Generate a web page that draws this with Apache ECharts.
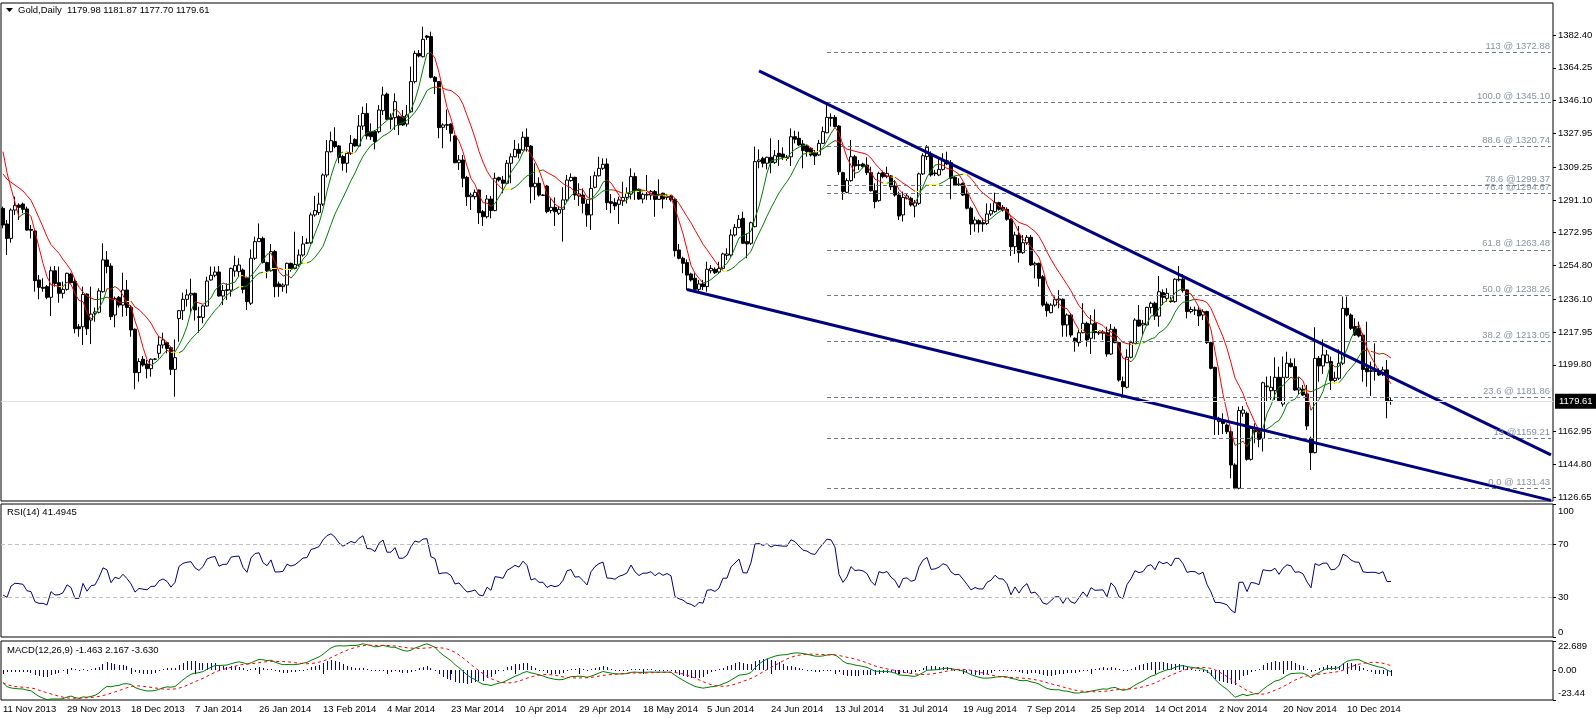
<!DOCTYPE html>
<html><head><meta charset="utf-8">
<script src="https://cdn.jsdelivr.net/npm/echarts@6/dist/echarts.min.js"></script>
<style>html,body{margin:0;padding:0;background:#fff;}#c{width:1596px;height:718px;}</style>
</head><body><div id="c"></div>
<script>
const opens = [1286.4,1277.8,1269.8,1285.5,1288.3,1288.8,1286.1,1274.8,1273.9,1246.8,
1242.7,1243.1,1237.2,1251.9,1245.3,1239.4,1241.6,1250.1,1245.9,1220.9,
1220.9,1239.0,1224.6,1228.3,1228.9,1240.3,1257.9,1254.5,1227.4,1237.2,
1232.9,1241.2,1231.6,1219.5,1195.5,1202.9,1200.3,1197.7,1202.9,1206.2,
1210.8,1212.1,1209.3,1197.3,1225.4,1229.8,1236.1,1238.5,1239.4,1226.5,
1226.1,1232.4,1246.8,1249.4,1251.2,1237.9,1241.0,1241.2,1251.7,1251.4,
1252.3,1247.7,1233.9,1258.8,1268.0,1269.8,1256.4,1251.9,1262.5,1244.6,
1243.1,1244.0,1256.0,1253.2,1255.4,1260.6,1267.1,1267.4,1282.8,1284.1,
1288.8,1304.9,1317.8,1323.4,1321.0,1315.1,1311.4,1316.9,1324.6,1321.0,
1332.0,1339.0,1328.9,1328.9,1328.9,1340.5,1349.7,1336.6,1336.6,1337.2,
1337.2,1333.1,1339.9,1356.6,1372.2,1370.4,1381.8,1381.5,1359.0,1356.6,
1331.3,1332.4,1333.1,1326.5,1311.7,1313.2,1303.6,1292.9,1292.9,1296.6,
1284.6,1281.8,1291.6,1285.2,1303.4,1302.1,1300.3,1311.4,1315.0,1319.1,
1318.7,1325.8,1320.9,1298.4,1300.3,1293.6,1298.8,1285.2,1287.0,1283.7,
1285.9,1291.1,1301.8,1303.6,1293.3,1293.8,1288.8,1282.8,1298.1,1304.5,
1308.6,1311.0,1290.1,1289.6,1288.7,1290.7,1292.5,1294.4,1304.0,1297.0,
1291.6,1293.8,1293.8,1295.7,1291.4,1294.8,1292.5,1293.3,1291.4,1263.4,
1258.8,1256.4,1250.1,1247.7,1241.6,1244.6,1243.1,1251.9,1252.7,1251.2,
1253.2,1260.4,1260.6,1271.7,1275.9,1280.9,1268.0,1267.1,1276.3,1312.3,
1314.1,1311.4,1314.7,1311.9,1316.9,1316.5,1314.1,1315.0,1326.1,1325.2,
1322.1,1320.9,1319.7,1316.9,1316.0,1322.4,1328.3,1336.8,1336.8,1332.0,
1306.2,1295.3,1301.8,1315.0,1310.2,1311.0,1310.4,1306.2,1296.2,1290.7,
1306.2,1304.0,1304.4,1298.8,1293.8,1282.8,1292.0,1292.0,1287.7,1289.2,
1305.5,1315.1,1316.0,1306.0,1304.9,1308.0,1312.8,1311.7,1303.6,1299.4,
1300.3,1294.4,1286.5,1277.8,1279.6,1278.5,1278.1,1283.3,1284.6,1289.6,
1287.0,1285.9,1280.4,1265.2,1271.7,1261.9,1267.4,1270.4,1255.1,1256.0,
1248.6,1233.5,1228.7,1232.9,1235.7,1236.1,1221.9,1227.4,1214.5,1212.1,
1217.6,1222.8,1214.5,1222.8,1217.4,1217.3,1217.6,1205.8,1219.5,1212.1,
1190.5,1187.4,1204.0,1211.7,1224.6,1221.9,1221.9,1231.6,1233.9,1226.8,
1239.8,1236.6,1235.3,1234.8,1246.8,1247.2,1241.3,1229.3,1230.0,1230.2,
1227.4,1229.3,1212.1,1198.4,1168.4,1168.9,1166.5,1162.8,1144.4,1131.5,
1173.0,1173.0,1147.5,1163.7,1163.7,1159.1,1187.7,1185.5,1185.5,1192.9,
1178.1,1192.9,1200.7,1198.8,1185.9,1186.3,1183.7,1159.1,1151.2,1203.4,
1199.2,1201.0,1201.6,1191.1,1192.4,1200.7,1231.1,1227.4,1221.0,1220.0,
1216.3,1197.9,1196.6,1196.6,1196.6,1194.8,1197.0,1179.98];
const highs = [1287.4,1280.0,1286.4,1292.9,1289.2,1289.6,1287.4,1277.2,1274.4,1249.5,
1247.7,1244.0,1254.2,1254.5,1254.2,1245.9,1250.8,1250.8,1247.7,1222.4,
1243.1,1239.4,1243.1,1231.6,1242.2,1267.1,1262.8,1256.0,1237.6,1237.9,
1250.8,1246.8,1232.9,1220.0,1203.4,1204.7,1202.5,1203.4,1203.5,1215.8,
1217.6,1212.6,1209.9,1213.9,1230.2,1239.8,1241.6,1247.5,1239.8,1232.0,
1232.9,1248.6,1254.2,1254.2,1254.5,1244.0,1244.9,1253.6,1260.2,1258.8,
1253.2,1248.6,1263.7,1270.8,1278.1,1270.8,1256.9,1266.7,1263.4,1245.9,
1244.9,1256.4,1256.4,1273.5,1263.7,1271.1,1269.8,1284.1,1293.3,1295.1,
1305.8,1324.3,1328.9,1331.3,1321.5,1316.0,1317.8,1327.0,1325.2,1338.1,
1342.7,1344.6,1333.5,1329.8,1343.6,1353.8,1350.5,1339.0,1350.1,1338.1,
1340.9,1343.6,1364.9,1373.7,1374.1,1387.0,1382.4,1384.2,1359.7,1356.9,
1333.5,1341.2,1333.5,1327.0,1316.0,1316.0,1304.4,1295.1,1296.9,1296.9,
1285.5,1293.8,1293.3,1306.2,1304.0,1304.4,1313.2,1316.9,1324.3,1322.4,
1328.9,1330.7,1321.5,1311.4,1303.6,1294.2,1299.4,1292.0,1292.5,1287.8,
1298.1,1304.9,1305.8,1304.0,1300.3,1297.5,1291.1,1304.4,1306.8,1315.0,
1314.1,1314.1,1294.4,1292.0,1292.9,1301.2,1298.1,1308.6,1306.2,1297.5,
1295.1,1304.9,1296.6,1296.6,1302.5,1295.1,1293.8,1294.4,1292.0,1266.7,
1259.7,1258.2,1250.8,1250.5,1246.8,1246.8,1256.9,1255.1,1253.8,1256.9,
1261.9,1264.3,1274.8,1277.8,1282.8,1284.6,1272.6,1279.1,1320.6,1319.1,
1315.0,1315.0,1325.2,1318.7,1324.3,1320.2,1316.0,1330.7,1329.4,1328.9,
1324.3,1321.5,1320.2,1318.7,1324.3,1331.7,1343.6,1339.0,1338.1,1332.6,
1306.7,1303.1,1324.3,1316.0,1313.2,1311.7,1314.7,1309.5,1300.3,1306.7,
1307.3,1309.5,1304.9,1302.1,1295.7,1295.7,1294.8,1292.9,1291.1,1306.2,
1316.9,1321.5,1318.0,1307.7,1314.7,1316.9,1317.8,1313.2,1304.3,1303.1,
1300.7,1297.5,1287.4,1281.8,1280.4,1280.9,1289.2,1289.2,1295.1,1290.1,
1288.3,1287.0,1280.9,1273.5,1276.7,1271.7,1271.7,1271.7,1256.9,1256.4,
1249.5,1234.8,1233.9,1237.6,1241.2,1236.6,1228.3,1228.3,1215.0,1219.1,
1233.9,1223.7,1227.4,1230.5,1219.1,1219.1,1220.9,1222.4,1220.9,1212.6,
1193.3,1208.4,1213.2,1225.6,1232.9,1224.6,1232.0,1234.8,1234.8,1249.0,
1241.6,1242.2,1237.6,1247.7,1254.5,1250.1,1241.6,1232.0,1232.0,1231.7,
1230.5,1229.8,1212.6,1198.8,1171.1,1173.0,1167.4,1163.7,1145.3,1176.7,
1177.0,1173.9,1165.6,1167.4,1164.7,1190.5,1193.3,1193.6,1204.0,1198.8,
1204.4,1207.1,1203.4,1203.4,1193.3,1188.7,1188.7,1160.1,1220.6,1204.7,
1213.9,1208.0,1204.4,1196.0,1208.4,1237.6,1237.6,1228.3,1225.6,1223.7,
1217.3,1223.7,1201.6,1211.7,1197.9,1198.8,1202.5,1181.87];
const lows = [1275.4,1260.6,1267.4,1282.8,1280.0,1283.7,1274.1,1269.8,1240.3,1236.1,
1240.3,1236.1,1226.9,1243.1,1234.2,1236.6,1240.9,1244.9,1217.3,1215.4,
1210.8,1216.3,1211.3,1223.7,1228.3,1239.8,1250.5,1224.6,1220.6,1231.6,
1226.5,1226.9,1215.4,1186.3,1190.5,1198.8,1192.3,1193.3,1202.4,1203.4,
1208.9,1206.2,1194.2,1182.2,1212.6,1224.6,1232.0,1228.3,1224.3,1217.6,
1222.8,1232.0,1246.4,1248.3,1237.6,1232.9,1235.7,1237.6,1248.6,1248.6,
1239.4,1230.2,1232.9,1257.8,1268.0,1256.0,1247.7,1251.4,1237.2,1237.5,
1240.3,1239.4,1251.4,1252.7,1254.2,1259.7,1266.7,1266.7,1281.8,1282.8,
1287.7,1303.6,1317.3,1319.7,1311.4,1307.3,1306.2,1316.0,1320.6,1320.6,
1329.8,1324.6,1324.3,1319.1,1328.0,1338.1,1335.3,1330.2,1329.8,1327.0,
1332.0,1331.7,1339.4,1355.6,1370.0,1370.0,1379.6,1358.4,1349.7,1325.2,
1319.7,1329.8,1323.4,1311.4,1307.7,1298.1,1287.8,1285.5,1291.4,1277.8,
1276.7,1280.9,1280.9,1284.8,1301.2,1294.8,1299.9,1300.3,1314.7,1314.1,
1318.4,1317.8,1289.2,1291.1,1292.9,1293.3,1283.7,1283.7,1276.7,1282.8,
1268.0,1290.1,1301.2,1291.1,1287.8,1283.7,1276.3,1274.5,1297.5,1304.0,
1307.7,1285.5,1283.7,1285.5,1277.8,1287.8,1289.2,1291.4,1291.1,1291.1,
1289.2,1291.1,1291.1,1281.8,1291.1,1286.4,1291.1,1290.1,1259.7,1258.2,
1250.5,1241.2,1245.9,1239.8,1240.3,1241.2,1240.3,1250.5,1250.1,1250.5,
1252.7,1257.8,1259.7,1270.8,1275.4,1266.7,1258.8,1266.2,1275.9,1308.6,
1309.1,1308.0,1305.8,1311.0,1309.9,1313.2,1312.8,1309.9,1322.4,1320.9,
1308.6,1315.1,1315.1,1310.4,1315.4,1322.1,1328.0,1331.7,1331.3,1304.9,
1291.1,1294.8,1301.2,1303.1,1307.7,1308.6,1304.9,1295.7,1286.5,1290.1,
1303.1,1303.1,1296.6,1292.9,1280.0,1279.1,1291.4,1287.4,1281.5,1288.3,
1304.9,1313.2,1304.0,1304.3,1304.3,1307.3,1310.4,1291.4,1298.8,1298.8,
1293.3,1285.9,1271.7,1273.5,1273.0,1273.5,1277.2,1282.2,1284.0,1285.2,
1284.6,1279.6,1260.1,1261.2,1256.4,1261.2,1266.2,1254.5,1247.7,1243.1,
1232.0,1226.5,1228.3,1232.0,1231.1,1215.4,1215.4,1215.0,1207.1,1209.9,
1217.3,1209.9,1205.8,1213.9,1216.3,1213.6,1204.3,1205.3,1211.7,1190.5,
1183.1,1186.8,1203.4,1211.4,1220.9,1216.3,1221.3,1228.3,1224.6,1220.9,
1232.9,1234.8,1234.2,1234.2,1245.9,1239.8,1225.6,1228.3,1227.4,1221.3,
1224.6,1211.4,1197.3,1161.0,1161.0,1161.5,1161.5,1137.0,1130.9,1130.9,
1171.1,1146.8,1146.8,1156.4,1154.2,1151.8,1179.4,1180.4,1180.4,1179.4,
1176.7,1192.4,1198.4,1185.5,1183.5,1182.6,1163.8,1141.6,1150.8,1190.5,
1194.8,1200.7,1185.9,1189.6,1191.4,1199.7,1226.5,1219.1,1215.8,1215.0,
1190.5,1187.7,1182.6,1191.1,1193.6,1193.6,1170.2,1177.70];
const closes = [1277.2,1269.8,1285.5,1288.1,1287.0,1285.9,1274.4,1274.3,1246.4,1242.7,
1242.2,1237.2,1251.9,1244.9,1239.4,1241.6,1250.5,1245.3,1219.8,1219.8,
1238.8,1219.8,1227.9,1229.1,1240.7,1257.9,1254.2,1226.5,1236.6,1232.9,
1241.2,1231.6,1219.1,1195.5,1201.6,1199.7,1197.7,1202.9,1203.0,1210.8,
1213.6,1208.9,1197.3,1203.8,1229.8,1236.1,1238.5,1239.4,1230.2,1226.1,
1232.4,1246.2,1249.4,1251.2,1237.9,1241.0,1241.4,1253.2,1254.7,1255.1,
1241.6,1234.8,1258.8,1268.0,1269.8,1256.4,1251.9,1262.5,1243.1,1243.1,
1244.0,1256.0,1253.2,1255.4,1260.6,1266.7,1267.4,1282.8,1285.2,1288.8,
1304.9,1317.8,1323.9,1320.6,1314.7,1311.4,1316.9,1322.4,1321.0,1332.0,
1339.0,1326.5,1326.1,1323.4,1340.9,1349.2,1335.7,1335.7,1345.5,1332.6,
1332.6,1338.1,1356.6,1372.2,1370.8,1380.0,1381.1,1359.0,1356.6,1331.1,
1332.6,1332.8,1328.0,1311.7,1313.2,1303.1,1292.9,1293.8,1295.3,1284.0,
1281.8,1291.6,1285.2,1303.1,1302.1,1300.3,1311.4,1315.0,1319.1,1316.9,
1325.8,1320.6,1298.4,1300.3,1293.8,1293.8,1284.6,1287.0,1284.6,1285.9,
1291.1,1302.1,1303.6,1293.8,1294.4,1289.2,1282.8,1297.5,1304.5,1308.6,
1310.8,1289.6,1289.2,1287.8,1291.1,1292.5,1294.8,1304.0,1296.2,1291.6,
1294.2,1294.2,1295.7,1291.4,1294.2,1291.6,1293.1,1291.1,1263.0,1258.8,
1256.0,1249.5,1246.8,1241.6,1244.6,1243.1,1252.7,1253.2,1250.8,1253.2,
1261.2,1261.2,1271.7,1275.9,1280.4,1267.1,1266.7,1278.5,1312.3,1313.2,
1311.4,1314.7,1311.7,1315.6,1315.0,1314.7,1314.7,1326.1,1324.7,1321.5,
1318.4,1317.8,1316.0,1315.4,1322.4,1328.9,1336.8,1336.3,1331.7,1306.7,
1295.7,1301.8,1315.0,1309.9,1310.6,1309.5,1306.2,1296.2,1290.1,1305.8,
1304.0,1305.8,1298.4,1293.8,1282.2,1292.5,1293.3,1288.3,1289.6,1305.5,
1315.6,1320.2,1304.9,1305.6,1308.0,1312.8,1311.0,1303.1,1299.4,1299.9,
1293.8,1286.5,1277.8,1280.0,1277.8,1277.8,1283.3,1285.2,1289.6,1285.9,
1285.5,1280.4,1265.2,1271.7,1261.9,1267.4,1270.4,1255.1,1256.0,1247.7,
1232.9,1229.8,1232.9,1236.1,1236.3,1221.9,1227.4,1216.3,1212.6,1217.6,
1222.8,1213.6,1222.4,1217.6,1217.8,1218.0,1205.8,1219.5,1212.1,1191.4,
1187.7,1204.0,1212.1,1224.6,1221.3,1222.8,1231.6,1233.9,1226.8,1240.3,
1237.2,1239.4,1234.8,1247.2,1247.2,1240.9,1229.3,1230.5,1230.2,1226.9,
1229.3,1212.1,1197.9,1170.2,1170.2,1167.4,1162.8,1144.4,1131.5,1174.5,
1174.8,1147.5,1164.7,1162.8,1158.6,1189.9,1188.1,1187.4,1192.9,1180.0,
1192.9,1200.7,1198.8,1185.9,1187.0,1183.1,1166.0,1151.2,1203.4,1199.2,
1205.3,1205.3,1191.1,1192.4,1200.7,1231.1,1227.4,1220.0,1216.3,1215.8,
1197.3,1196.0,1196.2,1196.2,1194.2,1197.0,1179.4,1179.61];

const dateLabels = ['11 Nov 2013','29 Nov 2013','18 Dec 2013','7 Jan 2014','26 Jan 2014','13 Feb 2014','4 Mar 2014','23 Mar 2014','10 Apr 2014','29 Apr 2014','18 May 2014','5 Jun 2014','24 Jun 2014','13 Jul 2014','31 Jul 2014','19 Aug 2014','7 Sep 2014','25 Sep 2014','14 Oct 2014','2 Nov 2014','20 Nov 2014','10 Dec 2014'];
const priceTicks = [1382.40,1364.25,1346.10,1327.95,1309.25,1291.10,1272.95,1254.80,1236.10,1217.95,1199.80,1162.95,1144.80,1126.65];
const rsiTicks = [0,30,70,100];
const rsiLevels = [30,70];
const macdTicks = [-23.44,0,22.689];
const fibValues = [1372.88,1345.10,1320.74,1299.37,1294.67,1263.48,1238.26,1213.05,1181.86,1159.21,1131.43];
const fibLabels = ['113 @ 1372.88','100.0 @ 1345.10','88.6 @ 1320.74','78.6 @1299.37','76.4 @1294.67','61.8 @ 1263.48','50.0 @ 1238.26','38.2 @ 1213.05','23.6 @ 1181.86','13 @1159.21','0.0 @ 1131.43'];
const fibStartBar = 206;
const upperTrend = [[189,1362.5],[387,1150.0]];
const lowerTrend = [[171,1241.5],[387,1124.8]];
const lastPrice = 1179.61;
// values at the first bar (history before the chart is not available)
const rsiHead = [31.6,29.8,38.3,40.4,40.1,39.6,34.8,34.1,26.5,25.3,25.3,24.1,34.1,31.6];
const fastMAStart = 1317.8, slowMAStart = 1305.5;
const macdStart = -9.9;
const titleText = 'Gold,Daily  1179.98 1181.87 1177.70 1179.61';
const rsiText = 'RSI(14) 41.4945';
const macdText = 'MACD(12,26,9) -1.463 2.167 -3.630';
const fastPeriod = 5, slowPeriod = 13;

const N = closes.length;
const nSlots = 388;
const cats = Array.from({length:nSlots}, (_, i) => String(i));
const candleData = closes.map((c,i)=>[opens[i], c, Math.min(lows[i],opens[i],c), Math.max(highs[i],opens[i],c)]);

function smaStart(arr,p,start){
  const pad=(p*start-arr[0])/(p-1);
  const out=[];let s=0;
  for(let i=0;i<arr.length;i++){
    s+=arr[i]; if(i>=p) s-=arr[i-p];
    out.push(i<p-1 ? (s+(p-1-i)*pad)/p : s/p);
  }
  return out;
}
function sma(arr,p){const out=[];let s=0;for(let i=0;i<arr.length;i++){s+=arr[i];if(i>=p)s-=arr[i-p];out.push(s/Math.min(i+1,p));}return out;}
function ema(arr,p,seed){const k=2/(p+1);const out=[];let e=seed;for(let i=0;i<arr.length;i++){e=i===0?seed:arr[i]*k+e*(1-k);out.push(e);}return out;}
function rsiCalc(arr,p,head){
  const out=head.slice(0,p);
  let ag=0,al=0;
  for(let i=1;i<=p;i++){const d=arr[i]-arr[i-1];ag+=Math.max(d,0);al+=Math.max(-d,0);}
  ag/=p;al/=p;
  out.push(al===0?100:100-100/(1+ag/al));
  for(let i=p+1;i<arr.length;i++){const d=arr[i]-arr[i-1];ag=(ag*(p-1)+Math.max(d,0))/p;al=(al*(p-1)+Math.max(-d,0))/p;out.push(al===0?100:100-100/(1+ag/al));}
  return out;
}
function segs(ma,thr){const out=[];for(let i=1;i<ma.length;i++){const d=ma[i]-ma[i-1];const col=Math.abs(d)<thr?'#ffff00':(d>0?'#008000':'#ff0000');out.push({coords:[[i-1,ma[i-1]],[i,ma[i]]],lineStyle:{color:col}});}return out;}

const fastMA = smaStart(closes, fastPeriod, fastMAStart);
const slowMA = smaStart(closes, slowPeriod, slowMAStart);
const rsi = rsiCalc(closes, 14, rsiHead);
const e12 = ema(closes,12,fastMAStart), e26 = ema(closes,26,fastMAStart-macdStart);
const macd = e12.map((v,i)=>v-e26[i]);
const signal = sma(macd, 9);
const hist = macd.map((v,i)=>v-signal[i]);

const font = 'Liberation Sans, Arial, sans-serif';
const fs = 9.5;
const gridBase = {show:true, borderColor:'#000', borderWidth:1, backgroundColor:'#fff', left:1, right:43};
const labelEvery = 16;
const showIdx = (idx) => idx % labelEvery === 0 && idx/labelEvery < dateLabels.length;

const chart = echarts.init(document.getElementById('c'));
chart.setOption({
  animation:false,
  backgroundColor:'#fff',
  textStyle:{fontFamily:font},
  title:[
    {text:titleText, left:18, top:5, padding:0, textStyle:{fontSize:fs, fontWeight:'normal', color:'#000', fontFamily:font}},
    {text:rsiText, left:7, top:507, padding:0, textStyle:{fontSize:fs, fontWeight:'normal', color:'#000', fontFamily:font}},
    {text:macdText, left:7, top:645, padding:0, textStyle:{fontSize:fs, fontWeight:'normal', color:'#000', fontFamily:font}}
  ],
  graphic:[{type:'polygon', shape:{points:[[6,8],[13,8],[9.5,12]]}, style:{fill:'#000'}}],
  grid:[
    Object.assign({}, gridBase, {top:3, height:498}),
    Object.assign({}, gridBase, {top:504, height:133}),
    Object.assign({}, gridBase, {top:641, height:59})
  ],
  xAxis:[0,1,2].map(g=>({
    type:'category', data:cats, gridIndex:g, boundaryGap:true,
    axisLine:{show:false},
    axisTick: g===2 ? {show:true, interval:(idx)=>showIdx(idx), alignWithLabel:true, length:4, lineStyle:{color:'#000'}} : {show:false},
    axisLabel: g===2 ? {show:true, interval:(idx)=>showIdx(idx), formatter:(v,idx)=>dateLabels[Math.round(idx/labelEvery)] || '', align:'left', margin:4, fontSize:fs, color:'#000', fontFamily:font} : {show:false},
    splitLine:{show:false}
  })),
  yAxis:[
    {type:'value', gridIndex:0, position:'right', min:1124.44, max:1400.11, scale:true,
     splitLine:{show:false}, axisLine:{show:false},
     axisTick:{show:true, customValues:priceTicks, length:3, lineStyle:{color:'#000'}},
     axisLabel:{customValues:priceTicks, formatter:v=>v.toFixed(2), margin:5, fontSize:fs, color:'#000', fontFamily:font}},
    {type:'value', gridIndex:1, position:'right', min:0, max:100,
     splitLine:{show:false}, axisLine:{show:false},
     axisTick:{show:true, customValues:rsiTicks, length:3, lineStyle:{color:'#000'}},
     axisLabel:{customValues:rsiTicks, margin:5, fontSize:fs, color:'#000', fontFamily:font,
       formatter:v=> v===100 ? '{t|100}' : (v===0 ? '{b|0}' : String(v)),
       rich:{t:{padding:[14,0,0,0], fontSize:fs, color:'#000', fontFamily:font}, b:{padding:[0,0,10,0], fontSize:fs, color:'#000', fontFamily:font}}}},
    {type:'value', gridIndex:2, position:'right', min:macdTicks[0], max:macdTicks[2],
     splitLine:{show:false}, axisLine:{show:false},
     axisTick:{show:true, customValues:macdTicks, length:3, lineStyle:{color:'#000'}},
     axisLabel:{customValues:macdTicks, margin:5, fontSize:fs, color:'#000', fontFamily:font,
       formatter:v=> v>0 ? '{t|'+v.toFixed(3)+'}' : (v<0 ? '{b|'+v.toFixed(2)+'}' : v.toFixed(2)),
       rich:{t:{padding:[11,0,0,0], fontSize:fs, color:'#000', fontFamily:font}, b:{padding:[0,0,13,0], fontSize:fs, color:'#000', fontFamily:font}}}}
  ],
  series:[
    {type:'candlestick', xAxisIndex:0, yAxisIndex:0, data:candleData, barWidth:3,
     itemStyle:{color:'#fff', color0:'#000', borderColor:'#000', borderColor0:'#000', borderWidth:1},
     markLine:{symbol:['none','none'], silent:true, animation:false,
       data: fibValues.map((v,k)=>[
         {coord:[fibStartBar, v], lineStyle:{color:'#6b7b8c', type:[4,3], width:1},
          label:{show:true, position:'insideEndTop', formatter:fibLabels[k], color:'#8793a0', fontSize:fs, fontFamily:font, distance:1}},
         {coord:[nSlots-1, v]}
       ])}},
    {type:'lines', coordinateSystem:'cartesian2d', xAxisIndex:0, yAxisIndex:0, data:segs(slowMA,0.25), lineStyle:{width:1, opacity:1}, z:3, silent:true},
    {type:'lines', coordinateSystem:'cartesian2d', xAxisIndex:0, yAxisIndex:0, data:segs(fastMA,0.25), lineStyle:{width:1, opacity:1}, z:3, silent:true},
    {type:'line', xAxisIndex:0, yAxisIndex:0, data:[], z:5,
     markLine:{symbol:['none','none'], silent:true, animation:false,
       data:[
         [{coord:upperTrend[0], lineStyle:{color:'#000080', width:3, type:'solid'}, label:{show:false}}, {coord:upperTrend[1]}],
         [{coord:lowerTrend[0], lineStyle:{color:'#000080', width:3, type:'solid'}, label:{show:false}}, {coord:lowerTrend[1]}],
         {yAxis:lastPrice, lineStyle:{color:'#e2e2e2', width:1, type:'solid'},
          label:{show:true, position:'end', formatter:lastPrice.toFixed(2), backgroundColor:'#000', color:'#fff', padding:[3,4,2,4], fontSize:fs, fontFamily:font, distance:2}}
       ]}},
    {type:'line', xAxisIndex:1, yAxisIndex:1, data:rsi, showSymbol:false, lineStyle:{color:'#000080', width:1}, z:3,
     markLine:{symbol:['none','none'], silent:true, animation:false, label:{show:false},
       data: rsiLevels.map(v=>({yAxis:v, lineStyle:{color:'#c0c0c0', type:[4,3], width:1}}))}},
    {type:'custom', xAxisIndex:2, yAxisIndex:2, data:hist.map((v,i)=>[i,v]), z:2, clip:true, silent:true,
     renderItem:(params, api)=>{
       const p = api.coord([api.value(0), api.value(1)]);
       const z = api.coord([api.value(0), 0]);
       const x = Math.floor(p[0]);
       const y0 = Math.round(Math.min(p[1], z[1]));
       const h = Math.max(1, Math.round(Math.abs(p[1]-z[1])));
       return {type:'rect', shape:{x:x, y:y0, width:1, height:h}, style:{fill:'#0000b0'}};
     }},
    {type:'line', xAxisIndex:2, yAxisIndex:2, data:macd, showSymbol:false, lineStyle:{color:'#008000', width:1}, z:3},
    {type:'line', xAxisIndex:2, yAxisIndex:2, data:signal, showSymbol:false, lineStyle:{color:'#ff0000', width:1, type:[3,3]}, z:4}
  ]
});
</script>
</body></html>
